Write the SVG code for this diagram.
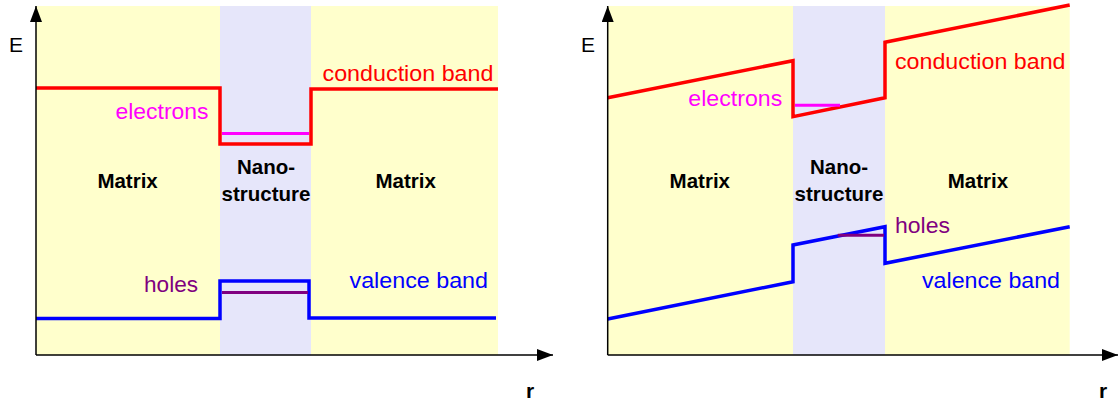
<svg xmlns="http://www.w3.org/2000/svg" width="1120" height="403" viewBox="0 0 1120 403">
<defs>
<marker id="ah" markerUnits="userSpaceOnUse" markerWidth="16" markerHeight="12" refX="16" refY="6" orient="auto">
<path d="M0,0 L16,6 L0,12 Z" fill="#000"/>
</marker>
<style>
.matrix{fill:#FFFFCC}
.nano{fill:#E6E6FA}
.axis{stroke:#000;stroke-width:1.5;fill:none}
.cb{stroke:#FF0000;stroke-width:3.5;fill:none;stroke-linejoin:miter}
.vb{stroke:#0000FF;stroke-width:3.5;fill:none;stroke-linejoin:miter}
.el{stroke:#FF00FF;stroke-width:3}
.ho{stroke:#800080;stroke-width:3}
text{font-family:"Liberation Sans",Arial,sans-serif}
.lbl{font-size:22px}
.bold{font-size:20.5px;font-weight:bold;fill:#000;text-anchor:middle}
.ax{font-size:21px;fill:#000}
.axb{font-size:21px;font-weight:bold;fill:#000}
</style>
</defs>

<g id="left-panel">
<g id="left-regions">
<rect class="matrix" x="36" y="6" width="462" height="349"/>
<rect class="nano" x="220" y="6" width="91" height="349"/>
</g>
<g id="left-bands">
<polyline class="cb" points="36,88 220,88 220,144 311,144 311,89 498,89"/>
<line class="el" x1="222" y1="133.5" x2="309" y2="133.5"/>
<polyline class="vb" points="36,318.5 220,318.5 220,281 309,281 309,318 496,318"/>
<line class="ho" x1="222" y1="292.5" x2="308" y2="292.5"/>
</g>
<g id="left-axes">
<line class="axis" x1="36" y1="355" x2="36" y2="6" marker-end="url(#ah)"/>
<line class="axis" x1="36" y1="355" x2="553" y2="355" marker-end="url(#ah)"/>
<text class="ax" x="9" y="52">E</text>
<text class="axb" x="526" y="398">r</text>
</g>
<g id="left-labels">
<text class="lbl" x="322.5" y="81" fill="#FF0000" textLength="171" lengthAdjust="spacingAndGlyphs">conduction band</text>
<text class="lbl" x="115.5" y="119" fill="#FF00FF" textLength="93" lengthAdjust="spacingAndGlyphs">electrons</text>
<text class="lbl" x="144" y="292" fill="#800080" textLength="54" lengthAdjust="spacingAndGlyphs">holes</text>
<text class="lbl" x="349.5" y="288" fill="#0000FF" textLength="138.5" lengthAdjust="spacingAndGlyphs">valence band</text>
<text class="bold" x="127.6" y="188">Matrix</text>
<text class="bold" x="405.7" y="188">Matrix</text>
<text class="bold" x="266" y="174">Nano-</text>
<text class="bold" x="266" y="201">structure</text>
</g>
</g>

<g id="right-panel">
<g id="right-regions">
<rect class="matrix" x="607.7" y="6" width="462" height="349"/>
<rect class="nano" x="793" y="6" width="92" height="349"/>
</g>
<g id="right-bands">
<polyline class="cb" points="607.7,97.7 793,60.7 793,116.7 885,97.7 885,42.3 1069.7,5"/>
<line class="el" x1="795" y1="105.3" x2="840" y2="105.3"/>
<polyline class="vb" points="607.7,319 793,281.7 793,245 885,226.7 885,263.3 1069.7,226.7"/>
<line class="ho" x1="837.8" y1="235.3" x2="884" y2="235.3"/>
</g>
<g id="right-axes">
<line class="axis" x1="607.7" y1="355" x2="607.7" y2="6" marker-end="url(#ah)"/>
<line class="axis" x1="607.7" y1="355" x2="1118" y2="355" marker-end="url(#ah)"/>
<text class="ax" x="581" y="52">E</text>
<text class="axb" x="1099" y="398">r</text>
</g>
<g id="right-labels">
<text class="lbl" x="895" y="69.3" fill="#FF0000" textLength="170.5" lengthAdjust="spacingAndGlyphs">conduction band</text>
<text class="lbl" x="688.3" y="106" fill="#FF00FF" textLength="94" lengthAdjust="spacingAndGlyphs">electrons</text>
<text class="lbl" x="895" y="233.3" fill="#800080" textLength="55" lengthAdjust="spacingAndGlyphs">holes</text>
<text class="lbl" x="922" y="288.3" fill="#0000FF" textLength="138" lengthAdjust="spacingAndGlyphs">valence band</text>
<text class="bold" x="699.8" y="188">Matrix</text>
<text class="bold" x="978" y="188">Matrix</text>
<text class="bold" x="839" y="174">Nano-</text>
<text class="bold" x="839" y="201">structure</text>
</g>
</g>
</svg>
